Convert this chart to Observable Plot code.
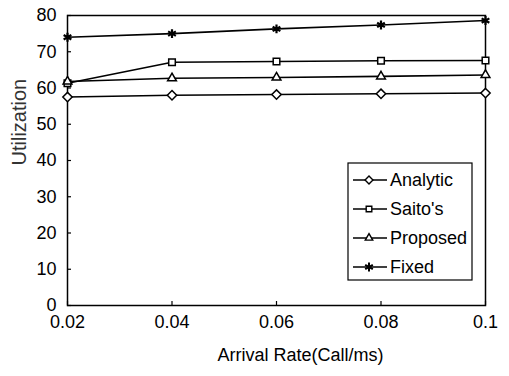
<!DOCTYPE html>
<html>
<head>
<meta charset="utf-8">
<script src="https://cdn.jsdelivr.net/npm/d3@7"></script>
<script src="https://cdn.jsdelivr.net/npm/@observablehq/plot@0.6"></script>
<style>
  html, body { margin: 0; padding: 0; background: #fff; }
  svg { font-family: "Liberation Sans", Arial, sans-serif; }
</style>
</head>
<body>
<div id="chart"></div>
<script>
const rates = [0.02, 0.04, 0.06, 0.08, 0.1];
const xTickLabels = ["0.02", "0.04", "0.06", "0.08", "0.1"];
const yTicks = [0, 10, 20, 30, 40, 50, 60, 70, 80];
const seriesNames = ["Analytic", "Saito's", "Proposed", "Fixed"];
const analytic = [57.5, 58.0, 58.2, 58.4, 58.6];
const saitos = [61.3, 67.1, 67.3, 67.5, 67.6];
const proposed = [61.8, 62.7, 62.9, 63.2, 63.6];
const fixed = [74.0, 75.0, 76.3, 77.4, 78.6];
const xTitle = "Arrival Rate(Call/ms)";
const yTitle = "Utilization";

const symbols = {"Analytic": "diamond2", "Saito's": "square2", "Proposed": "triangle2", "Fixed": "asterisk"};
const valuesBy = {"Analytic": analytic, "Saito's": saitos, "Proposed": proposed, "Fixed": fixed};

const data = seriesNames.flatMap(s => rates.map((r, i) => ({series: s, rate: r, value: valuesBy[s][i]})));

const fs = 18;
const chart = Plot.plot({
  width: 509,
  height: 376,
  marginLeft: 67,
  marginRight: 24,
  marginTop: 15,
  marginBottom: 71,
  style: {fontFamily: "'Liberation Sans', Arial, sans-serif", fontSize: fs + "px", background: "#fff", color: "#000"},
  x: {domain: [0.02, 0.1]},
  y: {domain: [0, 80]},
  marks: [
    Plot.frame({stroke: "#000", strokeWidth: 1.5}),
    Plot.axisY(yTicks, {tickSize: -4, tickPadding: 15, fontSize: fs, label: null, strokeWidth: 1.2}),
    Plot.axisX(rates, {tickSize: -4, tickPadding: 14, fontSize: fs, tickFormat: (d, i) => xTickLabels[i], label: null, strokeWidth: 1.2}),
    Plot.text([yTitle], {frameAnchor: "left", dx: -48, dy: 5, rotate: -90, fontSize: 20, fill: "#333", text: d => d}),
    Plot.text([xTitle], {frameAnchor: "bottom", dx: 24, dy: 55, fontSize: fs, fill: "#000", text: d => d}),
    ...seriesNames.map(s => Plot.line(data.filter(d => d.series === s), {x: "rate", y: "value", stroke: "#000", strokeWidth: 1.6})),
    ...seriesNames.map(s => Plot.dot(data.filter(d => d.series === s), {x: "rate", y: "value", symbol: () => symbols[s], r: 4.2, stroke: "#000", fill: s === "Fixed" ? "none" : "#fff", strokeWidth: s === "Fixed" ? 2.2 : 1.5}))
  ]
});
document.getElementById("chart").appendChild(chart);

// Legend inside the plot area
const svg = d3.select(chart);
const lg = svg.append("g").attr("class", "legend");
const lx = 348, ly = 163, lw = 124, lh = 117, step = 29;
lg.append("rect").attr("x", lx).attr("y", ly).attr("width", lw).attr("height", lh)
  .style("fill", "#fff").style("stroke", "#000").style("stroke-width", "1.2px");
const symMap = {"diamond2": d3.symbolDiamond2, "square2": d3.symbolSquare2, "triangle2": d3.symbolTriangle2, "asterisk": d3.symbolAsterisk};
seriesNames.forEach((s, i) => {
  const cy = ly + 17 + i * step;
  lg.append("line").attr("x1", lx + 5).attr("x2", lx + 39).attr("y1", cy).attr("y2", cy)
    .style("stroke", "#000").style("stroke-width", "1.5px");
  lg.append("path").attr("d", d3.symbol(symMap[symbols[s]], s === "Fixed" ? 55 : 40)())
    .attr("transform", `translate(${lx + 21},${cy})`)
    .style("fill", s === "Fixed" ? "none" : "#fff").style("stroke", "#000").style("stroke-width", s === "Fixed" ? "2px" : "1.4px");
  lg.append("text").attr("x", lx + 42).attr("y", cy).attr("dy", "0.35em")
    .attr("text-anchor", "start")
    .style("font-size", fs + "px").style("fill", "#000").text(s);
});
</script>
</body>
</html>
